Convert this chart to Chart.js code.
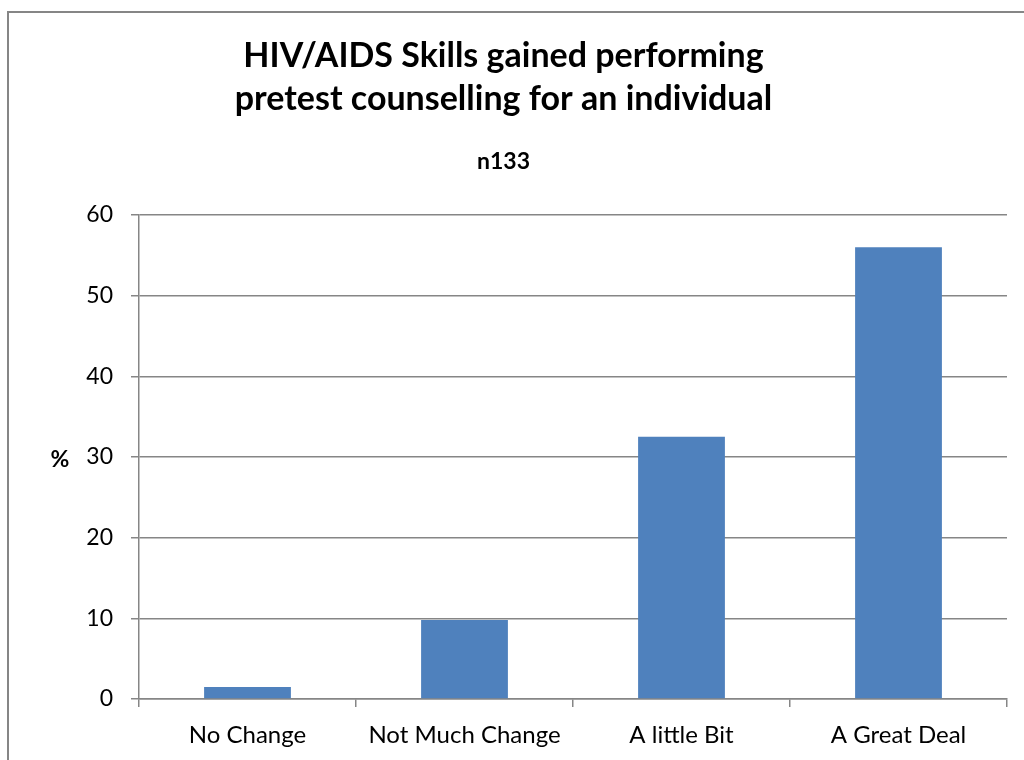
<!DOCTYPE html>
<html>
<head>
<meta charset="utf-8">
<script src="https://cdn.jsdelivr.net/npm/chart.js@4/dist/chart.umd.min.js"></script>
<style>
    html, body { margin: 0; padding: 0; background: #fff; overflow: hidden; }
    #frame {
        position: absolute; left: 7px; top: 11px;
        width: 1100px; height: 800px;
        border: 2px solid #868686;
    }
    #wrap { position: absolute; left: 0; top: 0; width: 1024px; height: 760px; }
</style>
</head>
<body>
<div id="frame"></div>
<div id="wrap"><canvas id="chart"></canvas></div>
<script>
// Chart data
const titleLines = ['HIV/AIDS Skills gained performing', 'pretest counselling for an individual'];
const subtitleText = 'n133';
const yAxisLabel = '%';
const categories = ['No Change', 'Not Much Change', 'A little Bit', 'A Great Deal'];
const percentValues = [1.5, 9.8, 32.5, 56];

const FONT = 'Lato, "Open Sans", sans-serif';
const gridColor = '#868686';

// draws the horizontal "%" label left of the value axis
const axisLabelPlugin = {
    id: 'axisLabel',
    afterDraw(chart) {
        const ctx = chart.ctx;
        const area = chart.chartArea;
        ctx.save();
        ctx.font = 'bold 23px ' + FONT;
        ctx.fillStyle = '#000';
        ctx.textAlign = 'center';
        ctx.textBaseline = 'middle';
        ctx.fillText(yAxisLabel, area.left - 79, (area.top + area.bottom) / 2 + 3);
        ctx.restore();
    }
};

new Chart(document.getElementById('chart'), {
    type: 'bar',
    data: {
        labels: categories,
        datasets: [{
            label: '%',
            data: percentValues,
            backgroundColor: '#4f81bd',
            borderWidth: 0,
            categoryPercentage: 1,
            barPercentage: 0.4
        }]
    },
    options: {
        responsive: true,
        maintainAspectRatio: false,
        animation: false,
        layout: { padding: { left: 0, right: 17, top: 0, bottom: 0 } },
        plugins: {
            legend: { display: false },
            tooltip: { enabled: false },
            title: {
                display: true,
                text: titleLines,
                color: '#000',
                font: { family: FONT, size: 34, weight: 'bold', lineHeight: 1.27 },
                padding: { top: 34, bottom: 13 }
            },
            subtitle: {
                display: true,
                text: subtitleText,
                color: '#000',
                font: { family: FONT, size: 23, weight: 'bold', lineHeight: 1.2 },
                padding: { top: 14, bottom: 40 }
            }
        },
        scales: {
            x: {
                afterFit(scale) { scale.height = 61; },
                grid: {
                    drawOnChartArea: false,
                    drawTicks: true,
                    tickLength: 8,
                    color: gridColor,
                    lineWidth: 1.5
                },
                border: { display: true, color: gridColor, width: 1.5 },
                ticks: {
                    color: '#000',
                    padding: 14,
                    font: { family: FONT, size: 24 }
                }
            },
            y: {
                min: 0,
                max: 60,
                afterFit(scale) { scale.width = 139; },
                grid: {
                    color: gridColor,
                    lineWidth: 1.5,
                    tickLength: 8
                },
                border: { display: true, color: gridColor, width: 1.5 },
                ticks: {
                    stepSize: 10,
                    color: '#000',
                    padding: 18,
                    font: { family: FONT, size: 23 }
                }
            }
        }
    },
    plugins: [axisLabelPlugin]
});
</script>
</body>
</html>
